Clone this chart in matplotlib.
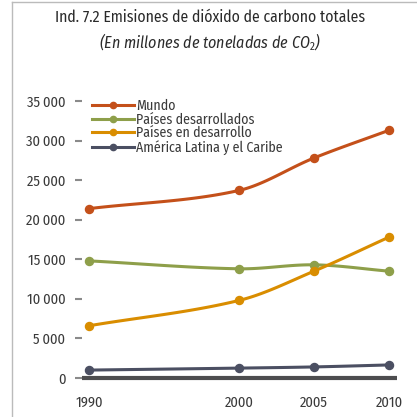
import numpy as np
import matplotlib
matplotlib.use("Agg")
import matplotlib.pyplot as plt
from matplotlib.lines import Line2D
from matplotlib.ticker import FuncFormatter

plt.rcParams['font.family'] = ['Fira Sans Condensed', 'DejaVu Sans']
plt.rcParams['mathtext.fontset'] = 'custom'
plt.rcParams['mathtext.it'] = 'Fira Sans Condensed:italic'
plt.rcParams['mathtext.rm'] = 'Fira Sans Condensed'

years = [1990, 2000, 2005, 2010]
mundo = [21400, 23700, 27800, 31300]
desarrollados = [14800, 13800, 14300, 13500]
en_desarrollo = [6600, 9800, 13500, 17800]
america_latina = [1000, 1250, 1400, 1650]

series_names = ["Mundo", "Países desarrollados", "Países en desarrollo",
                "América Latina y el Caribe"]
series_colors = ["#C4501A", "#8E9F4A", "#D98D00", "#4B4F62"]
y_ticks = [0, 5000, 10000, 15000, 20000, 25000, 30000, 35000]


def smooth(x, y, n=40):
    # cubic Hermite curve through the points, Catmull-Rom style tangents
    x = np.asarray(x, float)
    y = np.asarray(y, float)
    m = np.zeros_like(y)
    m[0] = (y[1] - y[0]) / (x[1] - x[0])
    m[-1] = (y[-1] - y[-2]) / (x[-1] - x[-2])
    for i in range(1, len(x) - 1):
        m[i] = (y[i + 1] - y[i - 1]) / (x[i + 1] - x[i - 1])
    xs, ys = [], []
    for i in range(len(x) - 1):
        h = x[i + 1] - x[i]
        t = np.linspace(0, 1, n)
        h00 = 2 * t**3 - 3 * t**2 + 1
        h10 = t**3 - 2 * t**2 + t
        h01 = -2 * t**3 + 3 * t**2
        h11 = t**3 - t**2
        xs.append(x[i] + t * h)
        ys.append(h00 * y[i] + h10 * h * m[i] + h01 * y[i + 1] + h11 * h * m[i + 1])
    return np.concatenate(xs), np.concatenate(ys)


W = H = 417
fig = plt.figure(figsize=(W / 100, H / 100), dpi=100)

# axes placed in pixel terms
left, right, top, bottom = 82, 410, 90, 385
ax = fig.add_axes([left / W, 1 - bottom / H, (right - left) / W, (bottom - top) / H])


def px_year(px):
    return 1990 + (px - 89) * 10 / 150


def px_val(py):
    return (378 - py) / 277 * 35000


ax.set_xlim(px_year(left), px_year(right))
ax.set_ylim(px_val(bottom), px_val(top))

for name, vals, col in zip(series_names,
                           [mundo, desarrollados, en_desarrollo, america_latina],
                           series_colors):
    sx, sy = smooth(years, vals)
    ax.plot(sx, sy, color=col, lw=2.2, solid_capstyle='round', zorder=3)
    ax.plot(years, vals, 'o', color=col, ms=5.8, zorder=4)

# legend handles: line with a dot in the middle
handles = [Line2D([], [], color=c, lw=2.2, marker='o', ms=4.5) for c in series_colors]
leg = ax.legend(handles, series_names, loc='upper left',
                bbox_to_anchor=((92 - left) / (right - left), 1 - (99 - top) / (bottom - top)),
                frameon=False, fontsize=10, handlelength=3.0, handletextpad=0.15,
                labelspacing=-0.05, borderpad=0, borderaxespad=0)
for t in leg.get_texts():
    t.set_color("#3a3a3a")

# zero baseline
ax.axhline(0, xmin=0, xmax=(397 - left) / (right - left), color="#4D4D4F", lw=3.0,
           solid_capstyle='butt', zorder=2)

for s in ax.spines.values():
    s.set_visible(False)

ax.set_yticks(y_ticks)
ax.yaxis.set_major_formatter(FuncFormatter(lambda v, p: f"{int(v):,}".replace(",", "\u2009")))
ax.tick_params(axis='y', length=5, width=1.5, color="#8a8a8a", pad=7,
               labelsize=10.5, labelcolor="#3a3a3a")
ax.set_xticks(years)
ax.set_xticklabels([str(y) for y in years])
ax.tick_params(axis='x', length=0, pad=8, labelsize=10.5, labelcolor="#3a3a3a")

fig.text(210 / W, 1 - 17 / H, "Ind. 7.2 Emisiones de dióxido de carbono totales",
         ha='center', va='center', fontsize=11.3, color="#2a2a2a")
fig.text(210 / W, 1 - 42 / H, r"(En millones de toneladas de CO$_{\mathit{2}}$)",
         ha='center', va='center', fontsize=11.5, style='italic', color="#2a2a2a")

# thin frame on left and top
fig.add_artist(Line2D([12 / W, 12 / W], [0, 1 - 2 / H], color="#BBBBBB", lw=1))
fig.add_artist(Line2D([12 / W, 1], [1 - 2 / H, 1 - 2 / H], color="#BBBBBB", lw=1))

fig.savefig("out.png", dpi=100)
